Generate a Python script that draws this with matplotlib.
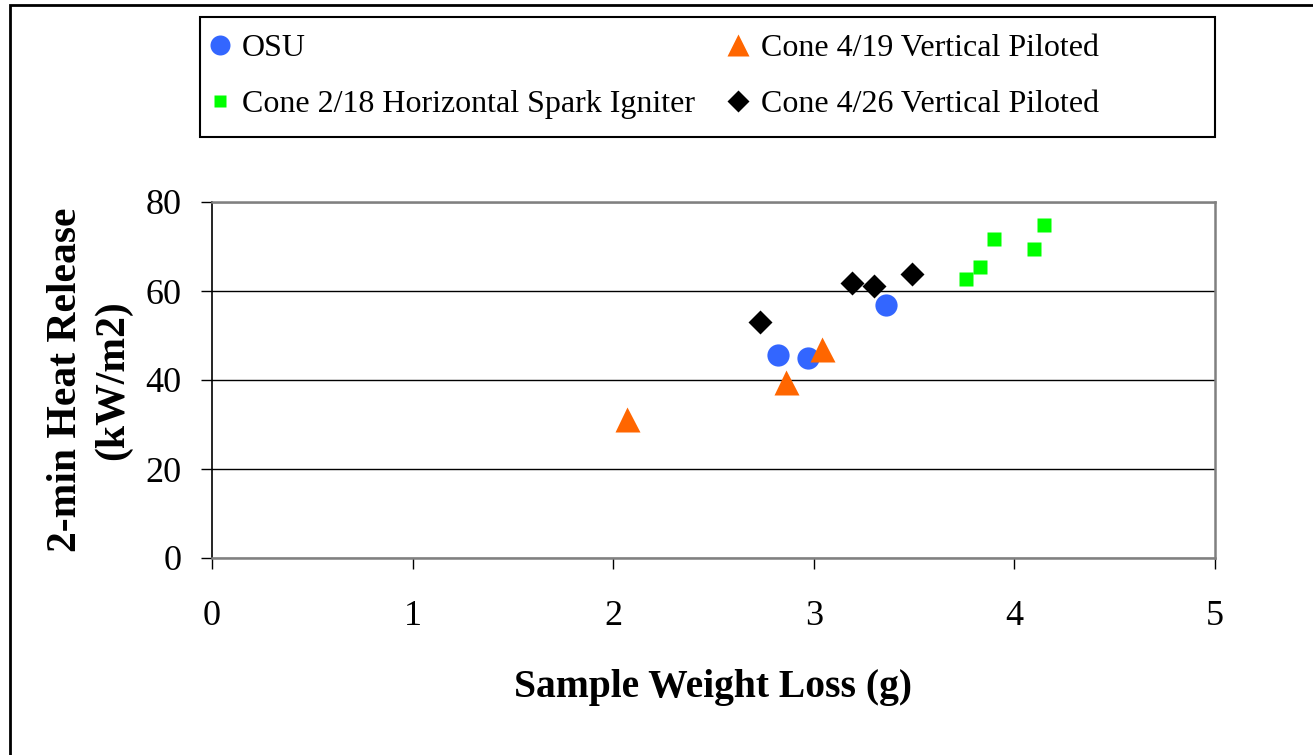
import matplotlib
matplotlib.use("Agg")
import matplotlib.pyplot as plt
from matplotlib.patches import Rectangle

plt.rcParams.update({"font.family": "Liberation Serif"})

# sample weight loss (g) and 2-min heat release (kW/m2)
osu_x = [2.82, 2.97, 3.36]
osu_y = [45.6, 44.9, 56.8]
c419_x = [2.07, 2.86, 3.04]
c419_y = [31.3, 39.5, 47.0]
c218_x = [3.76, 3.83, 3.90, 4.10, 4.15]
c218_y = [62.7, 65.4, 71.7, 69.5, 74.9]
c426_x = [2.73, 3.19, 3.30, 3.49]
c426_y = [53.1, 61.9, 61.2, 63.9]

W, H = 1313, 755
fig = plt.figure(figsize=(W / 100, H / 100), dpi=100)
ax = fig.add_axes([212 / W, 1 - 558 / H, (1215 - 212) / W, (558 - 202) / H])

h_osu, = ax.plot(osu_x, osu_y, "o", ms=16, color="#3366FF", mec="none", label="OSU", zorder=3)
h_419, = ax.plot(c419_x, c419_y, "^", ms=18, color="#FF6600", mec="none",
                 label="Cone 4/19 Vertical Piloted", zorder=3)
h_218, = ax.plot(c218_x, c218_y, "s", ms=10, color="#00FF00", mec="none",
                 label="Cone 2/18 Horizontal Spark Igniter", zorder=3)
h_426, = ax.plot(c426_x, c426_y, "D", ms=12.5, color="black", mec="none",
                 label="Cone 4/26 Vertical Piloted", zorder=3)

ax.set_xlim(0, 5)
ax.set_ylim(0, 80)
ax.set_xticks(range(0, 6))
ax.set_yticks(range(0, 81, 20))
ax.tick_params(axis="both", direction="out", length=8, width=1, labelsize=26, colors="black")
ax.tick_params(axis="x", pad=22)
ax.tick_params(axis="y", pad=14)
ax.yaxis.grid(True, color="black", lw=1)
ax.set_axisbelow(True)
for s in ("top", "right", "bottom"):
    ax.spines[s].set_color("#808080")
    ax.spines[s].set_linewidth(1.8)
ax.spines["left"].set_color("black")
ax.spines["left"].set_linewidth(1.2)

ax.set_xlabel("Sample Weight Loss (g)", fontsize=28.5, fontweight="bold", labelpad=26)
ax.set_ylabel("2-min Heat Release\n(kW/m2)", fontsize=30, fontweight="bold", linespacing=1.28)
ax.yaxis.set_label_coords(-0.080, 0.5)

# outer frame and legend box
fig.patches.append(Rectangle((10 / W, -0.1), 1.2, 1 - 5 / H + 0.1, transform=fig.transFigure,
                             fill=False, ec="black", lw=2))
fig.patches.append(Rectangle((200 / W, 1 - 137 / H), (1215 - 200) / W, 120 / H,
                             transform=fig.transFigure, fill=False, ec="black", lw=1.5))
fig.legend(handles=[h_osu, h_218, h_419, h_426], ncol=2, frameon=False, fontsize=23,
           loc="upper left", bbox_to_anchor=(207 / W, 1 - 34 / H), borderpad=0, borderaxespad=0,
           handlelength=0.8, handletextpad=0.3, columnspacing=0.95, labelspacing=0.83,
           markerscale=0.9)

fig.savefig("out.png", dpi=100)
